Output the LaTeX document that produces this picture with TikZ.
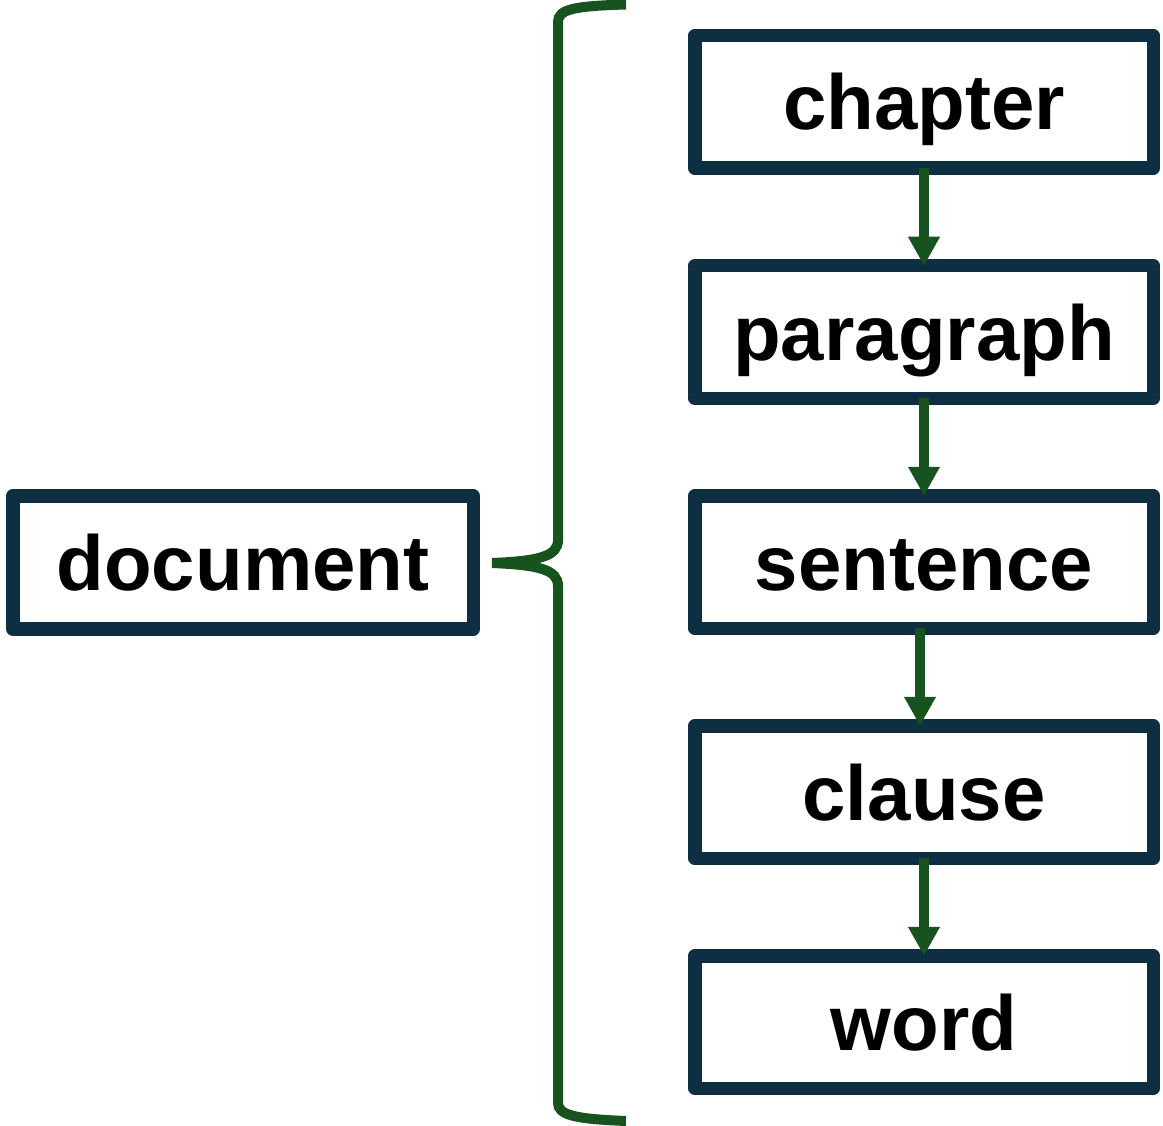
\documentclass[tikz,border=0pt]{standalone}
\usepackage{fontspec}
\setmainfont{Liberation Sans}
\usetikzlibrary{arrows.meta}
\definecolor{navy}{RGB}{14,47,66}
\definecolor{leaf}{RGB}{23,83,30}
\tikzset{
  unitbox/.style={draw=navy, line width=13.5pt, line join=round, rectangle,
    minimum width=458.5pt, minimum height=132.5pt, inner sep=0pt, outer sep=0pt,
    text height=56pt, text depth=0pt,
    font=\fontsize{78}{90}\selectfont\bfseries},
  docbox/.style={unitbox, minimum width=460.5pt, minimum height=133pt},
  down/.style={draw=leaf, line width=9.5pt, -{Triangle[width=30pt,length=29pt]}},
  brace/.style={draw=leaf, line width=10pt}
}
\begin{document}
\begin{tikzpicture}[x=1pt,y=-1pt]
\useasboundingbox (0,0) rectangle (1163,1126);
\node[unitbox] (chapter) at (924,102) {chapter};
\node[unitbox] (paragraph) at (924,332) {paragraph};
\node[unitbox] (sentence) at (924,562) {sentence};
\node[unitbox] (clause) at (924,792) {clause};
\node[unitbox] (word) at (924,1022) {word};
\node[docbox] (document) at (243,562.5) {document};
\draw[down] (chapter.south) -- (paragraph.north);
\draw[down] (paragraph.south) -- (sentence.north);
\draw[down] ([xshift=-4pt]sentence.south) -- ([xshift=-4pt]clause.north);
\draw[down] (clause.south) -- (word.north);
\coordinate (tip) at (492,563);
\draw[brace] (626,4.5) .. controls (575,6) and (558,9) .. (558,22) -- (558,540)
  .. controls (558,556) and (540,561) .. (tip);
\draw[brace] (tip) .. controls (540,565) and (558,570) .. (558,586) -- (558,1103)
  .. controls (558,1115) and (575,1119) .. (626,1121);
\end{tikzpicture}
\end{document}
